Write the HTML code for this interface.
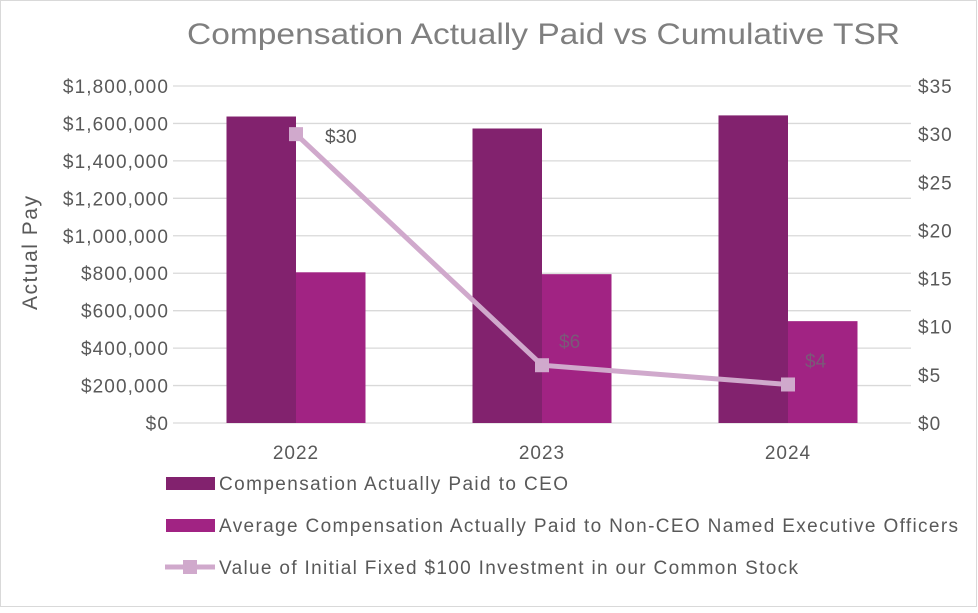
<!DOCTYPE html>
<html><head><meta charset="utf-8"><style>
body{margin:0;background:#fff;width:978px;height:608px;overflow:hidden;font-family:"Liberation Sans",sans-serif}
</style></head><body>
<svg id="c" width="978" height="608" xmlns="http://www.w3.org/2000/svg">
<rect x="0.5" y="0.5" width="976" height="606" fill="#fff" stroke="#d9d9d9"/>
<text x="187" y="44" textLength="713" lengthAdjust="spacingAndGlyphs" font-size="30" fill="#7f7f7f">Compensation Actually Paid vs Cumulative TSR</text>
<text transform="translate(37,253) rotate(-90)" text-anchor="middle" textLength="114" font-size="21" fill="#595959">Actual Pay</text>
<g id="grid"></g><g id="bars"></g><g id="line"></g><g id="axes"></g>
<g>
<rect x="166" y="477" width="49" height="13" fill="#82226e"/>
<text x="219" y="490" textLength="349" font-size="19" fill="#595959">Compensation Actually Paid to CEO</text>
<rect x="166" y="519" width="49" height="13" fill="#a12383"/>
<text x="219" y="532" textLength="739" font-size="19" fill="#595959">Average Compensation Actually Paid to Non-CEO Named Executive Officers</text>
<line x1="165" y1="567" x2="215" y2="567" stroke="#d0a9cc" stroke-width="5"/>
<rect x="183" y="560" width="14" height="14" fill="#d0a9cc"/>
<text x="219" y="574" textLength="579" font-size="19" fill="#595959">Value of Initial Fixed $100 Investment in our Common Stock</text>
</g>
</svg>
<script>
const categories=["2022","2023","2024"];
const ceoPay=[1637000,1573000,1643000];
const neoPay=[805000,795000,544000];
const tsr=[30,6,4];
const tsrLabels=["$30","$6","$4"];
const leftTicks=[0,200000,400000,600000,800000,1000000,1200000,1400000,1600000,1800000];
const rightTicks=[0,5,10,15,20,25,30,35];
const NS="http://www.w3.org/2000/svg";
const X0=173,X1=911,Y0=423,Y1=86;
const band=(X1-X0)/categories.length;
const xc=i=>X0+band*(i+0.5);
const yL=v=>Y0-(v/1800000)*(Y0-Y1);
const yR=v=>Y0-(v/35)*(Y0-Y1);
function mk(tag,attrs,parent){const e=document.createElementNS(NS,tag);for(const k in attrs)e.setAttribute(k,attrs[k]);document.getElementById(parent).appendChild(e);return e;}
const fmt=v=>"$"+v.toLocaleString("en-US");
leftTicks.forEach(v=>{
  const g=mk("line",{x1:X0,x2:X1,y1:yL(v),y2:yL(v),stroke:"#d9d9d9","stroke-width":1.3},"grid");
  
  
  const t=mk("text",{x:169,y:yL(v)+7,"text-anchor":"end","font-size":19,"letter-spacing":"1.1",fill:"#595959"},"axes");
  t.textContent=fmt(v);
  
  
});
rightTicks.forEach(v=>{
  const t=mk("text",{x:918,y:yR(v)+7,"font-size":19,"letter-spacing":"1",fill:"#595959"},"axes");
  t.textContent="$"+v;
  
  
});
const bw=69.5;
categories.forEach((c,i)=>{
  const b1=mk("rect",{x:xc(i)-bw,y:yL(ceoPay[i]),width:bw,height:Y0-yL(ceoPay[i]),fill:"#82226e"},"bars");
  
  
  const b2=mk("rect",{x:xc(i),y:yL(neoPay[i]),width:bw,height:Y0-yL(neoPay[i]),fill:"#a12383"},"bars");
  
  
  const t=mk("text",{x:xc(i),y:459,"text-anchor":"middle","font-size":19,"letter-spacing":"1",fill:"#595959"},"axes");
  t.textContent=c;
  
  
});
const pl=mk("polyline",{points:tsr.map((v,i)=>xc(i)+","+yR(v)).join(" "),fill:"none",stroke:"#d0a9cc","stroke-width":5},"line");


tsr.forEach((v,i)=>{
  const m=mk("rect",{x:xc(i)-7,y:yR(v)-7,width:14,height:14,fill:"#d0a9cc"},"line");
  
  
  const t=mk("text",{x:xc(i)+(i==0?29:17),y:yR(v)+(i==0?9:-17),"font-size":19,fill:i==0?"#595959":"#7a5a78"},"line");
  t.textContent=tsrLabels[i];
  
  
});
</script>
</body></html>
